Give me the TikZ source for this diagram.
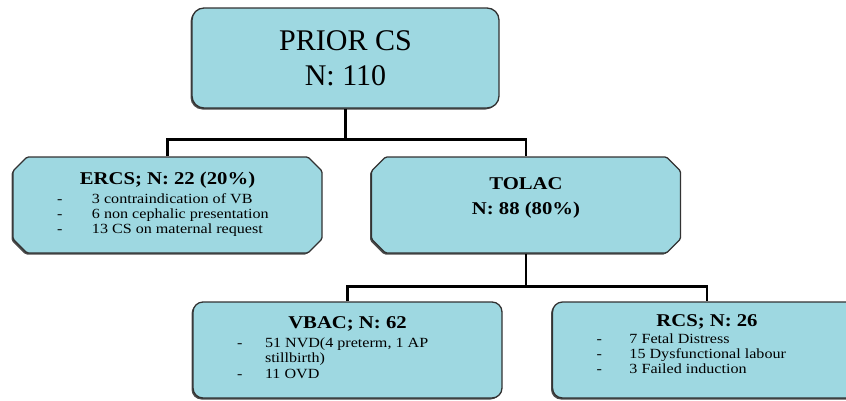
\documentclass[tikz,border=0pt]{standalone}
\usepackage{fontspec}
\setmainfont{Liberation Serif}
\newfontfamily\boxfont[FakeStretch=1.15]{Liberation Serif}
\usepackage{tikz}
\usetikzlibrary{shapes.misc, shadows}
\definecolor{boxfill}{RGB}{158,216,225}
\definecolor{boxline}{RGB}{50,50,50}
\tikzset{
	cbox/.style={fill=boxfill, draw=boxline, line width=1.3pt, inner sep=0pt, minimum width=309pt, minimum height=96pt,
		drop shadow={shadow xshift=-1.5pt, shadow yshift=-1.5pt, fill=black!70, opacity=1}},
	roundbox/.style={cbox, rectangle, rounded corners=10pt},
	snipbox/.style={cbox, chamfered rectangle, chamfered rectangle xsep=7pt, chamfered rectangle ysep=7pt, rounded corners=1.5pt},
	link/.style={line width=2.6pt, black}
}
\newcommand{\ttl}[1]{{\boxfont\fontsize{18}{24}\selectfont\bfseries #1}}
\newcommand{\itm}{\boxfont\fontsize{14}{15}\selectfont}

\begin{document}
\begin{tikzpicture}[x=1pt, y=-1pt]
		\useasboundingbox (0,0) rectangle (846,400);
		\clip (0,0) rectangle (846,400);
		\node[roundbox, rounded corners=12pt, minimum width=307pt, minimum height=100pt, align=center, font=\fontsize{30}{35}\selectfont](prior)at(345.5, 58){PRIOR CS\\N: 110};
		\node[snipbox](ercs)at(167.5, 205){\itm\begin{tabular}{@{}p{35pt}@{}p{186pt}@{}}
			\multicolumn{2}{@{}c@{}}{\ttl{ERCS; N: 22 (20\%)}}\\[4pt]
			-&3 contraindication of VB\\
			-&6 non cephalic presentation\\
			-&13 CS on maternal request
		\end{tabular}};
		\node[snipbox, align=center, font=\boxfont\fontsize{18}{25}\selectfont\bfseries](tolac)at(526, 205){TOLAC\\N: 88 (80\%)\rule[-17pt]{0pt}{1pt}};
		\node[roundbox](vbac)at(347.5, 350){\itm\begin{tabular}{@{}p{28pt}@{}p{193pt}@{}}
			\multicolumn{2}{@{}c@{}}{\ttl{VBAC; N: 62}}\\[4pt]
			-&51 NVD(4 preterm, 1 AP\\
			&stillbirth)\\[1pt]
			-&11 OVD
		\end{tabular}};
		\node[roundbox](rcs)at(707, 350){\itm\begin{tabular}{@{}p{33pt}@{}p{188pt}@{}}
			\multicolumn{2}{@{}c@{}}{\ttl{RCS; N: 26}}\\[2pt]
			-&7 Fetal Distress\\
			-&15 Dysfunctional labour\\
			-&3 Failed induction\rule[-12pt]{0pt}{1pt}
		\end{tabular}};
		\draw[link](prior.south)--++(0, 32);
		\draw[link](ercs.north)--++(0, -17)-|(tolac.north);
		\draw[link](tolac.south)--++(0, 34);
		\draw[link](vbac.north)--++(0, -15)-|(rcs.north);
	\end{tikzpicture}
\end{document}
